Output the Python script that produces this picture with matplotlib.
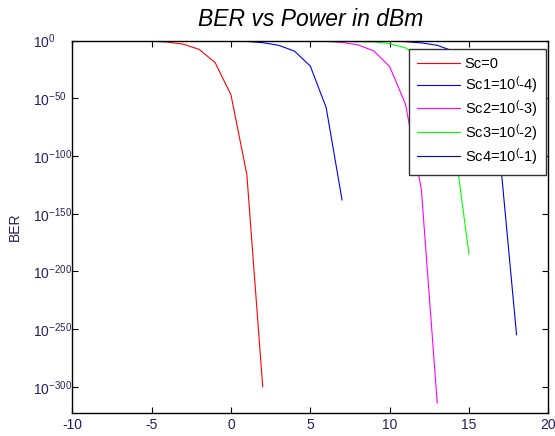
import matplotlib
matplotlib.use("Agg")
import matplotlib.pyplot as plt
import numpy as np

plt.rcParams['font.family'] = ['Liberation Sans', 'DejaVu Sans']
plt.rcParams['axes.unicode_minus'] = False
plt.rcParams['mathtext.fontset'] = 'custom'
plt.rcParams['mathtext.rm'] = 'Liberation Sans'
plt.rcParams['mathtext.it'] = 'Liberation Sans:italic'

# Power in dBm (integer steps) and BER values
x_sc0 = [-8, -7, -6, -5, -4, -3, -2, -1, 0, 1, 2]
ber_sc0 = [0.93, 0.84, 0.65, 0.34, 6.3e-2, 1e-3, 2.5e-8, 1e-19, 1e-47, 1e-116, 1e-300]

x_sc1 = [-8, -7, -6, -5, -4, -3, -2, -1, 0, 1, 2, 3, 4, 5, 6, 7]
ber_sc1 = [0.99, 0.98, 0.96, 0.92, 0.85, 0.75, 0.6, 0.76, 0.5, 0.2, 2e-2, 1e-4, 1e-9, 1e-22, 1e-58, 1e-138]

x_sc2 = [-8, -7, -6, -5, -4, -3, -2, -1, 0, 1, 2, 3, 4, 5, 6, 7, 8, 9, 10, 11, 12, 13]
ber_sc2 = [0.999, 0.998, 0.997, 0.995, 0.99, 0.98, 0.97, 0.95, 0.92, 0.88, 0.8, 0.7, 0.55, 0.56, 0.25,
           3.2e-2, 2.5e-4, 1.3e-9, 4e-23, 1e-55, 1e-129, 1e-314]

x_sc3 = [-8, -7, -6, -5, -4, -3, -2, -1, 0, 1, 2, 3, 4, 5, 6, 7, 8, 9, 10, 11, 12, 13, 14, 15]
ber_sc3 = [0.999, 0.999, 0.998, 0.997, 0.996, 0.994, 0.99, 0.985, 0.97, 0.95, 0.92, 0.88, 0.8, 0.7, 0.55,
           0.3, 0.1, 1.1e-1, 2.5e-3, 6e-7, 1e-15, 1e-35, 1e-81, 1e-185]

x_sc4 = [-8, -7, -6, -5, -4, -3, -2, -1, 0, 1, 2, 3, 4, 5, 6, 7, 8, 9, 10, 11, 12, 13, 14, 15, 16, 17, 18]
ber_sc4 = [0.999, 0.999, 0.999, 0.998, 0.998, 0.997, 0.996, 0.994, 0.99, 0.985, 0.98, 0.97, 0.95, 0.92,
           0.88, 0.82, 0.74, 0.6, 0.42, 0.14, 1.2e-2, 1e-4, 1e-9, 1e-20, 1e-46, 1e-107, 1e-255]

labels = ['Sc=0', 'Sc1=10$^{(}$-4)', 'Sc2=10$^{(}$-3)', 'Sc3=10$^{(}$-2)', 'Sc4=10$^{(}$-1)']
colors = ['#FF0000', '#0000FF', '#FF00FF', '#00FF00', '#0000DD']

xticks = [-10, -5, 0, 5, 10, 15, 20]
yexp = [0, -50, -100, -150, -200, -250, -300]

tick_color = '#2b1d5e'

fig = plt.figure(figsize=(5.55, 4.36), dpi=100)
ax = fig.add_axes([0.1303, 0.0521, 0.8576, 0.8546])

series = [(x_sc0, ber_sc0), (x_sc1, ber_sc1), (x_sc2, ber_sc2), (x_sc3, ber_sc3), (x_sc4, ber_sc4)]
for (xs, ys), lab, c in zip(series, labels, colors):
    ax.plot(xs, ys, color=c, lw=0.8, label=lab)

ax.set_yscale('log')
ax.set_xlim(-10, 20)
ax.set_ylim(1e-323, 1)
ax.set_xticks(xticks)
ax.set_xticklabels([str(t) for t in xticks])
ax.set_yticks([10.0 ** e for e in yexp])
ax.set_yticklabels(['$10^{%d}$' % e for e in yexp])
ax.minorticks_off()
ax.yaxis.set_minor_locator(matplotlib.ticker.NullLocator())
ax.tick_params(direction='in', length=4, width=0.8, top=True, right=True,
               labelsize=10, colors='black', labelcolor=tick_color)
ax.tick_params(axis='y', pad=28.3)
for lbl in ax.get_yticklabels():
    lbl.set_horizontalalignment('left')
for s in ax.spines.values():
    s.set_linewidth(1.0)

ax.set_ylabel('BER', fontsize=10, color=tick_color)
ax.yaxis.set_label_coords(-0.1057, 0.5)
ax.set_title('BER vs Power in dBm', fontsize=16.5, style='italic', pad=10.6)

leg = ax.legend(loc='upper right', bbox_to_anchor=(0.9945, 0.977), borderaxespad=0,
                fontsize=10.5, handlelength=3.0, handletextpad=0.3, borderpad=0.55,
                labelspacing=0.2, fancybox=False, framealpha=1)
leg.get_frame().set_edgecolor('#333333')
leg.get_frame().set_linewidth(1.0)

fig.savefig('out.png', dpi=100)
